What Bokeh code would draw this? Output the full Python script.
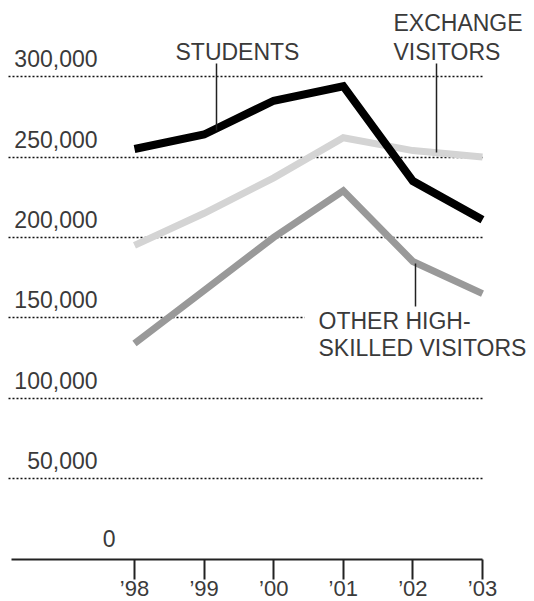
from bokeh.plotting import figure
from bokeh.models import FixedTicker, Range1d
from bokeh.core.properties import value
from bokeh.embed import file_html
from bokeh.resources import INLINE

# ---- data ----
years = [1998, 1999, 2000, 2001, 2002, 2003]
year_labels = ["\u201998", "\u201999", "\u201900", "\u201901", "\u201902", "\u201903"]
students = [255000, 264000, 285000, 294000, 235000, 211000]
exchange = [195000, 215000, 237000, 262000, 254000, 250000]
other = [134000, 167000, 200000, 229000, 185000, 165000]
grid_values = [50000, 100000, 150000, 200000, 250000, 300000]
grid_labels = ["50,000", "100,000", "150,000", "200,000", "250,000", "300,000"]
zero_value = [0]
zero_label = ["0"]
students_name = ["STUDENTS"]
exchange_name = ["EXCHANGE", "VISITORS"]
other_name = ["OTHER HIGH-", "SKILLED VISITORS"]

# ---- layout helpers (reference pixel -> data) ----
FONT = "Liberation Sans"
TXT = "#3a3a3a"
FS = "23px"
W, H = 534, 601
PX0, PXS = 134.0, 69.6          # pixel x of 1998, pixels per year
PY0, PYS = 558.5, 80.4 / 50000  # pixel y of 0, pixels per unit
PAD = 14


def dx(px):
    return 1998 + (px - PX0) / PXS


def dy(py):
    return (PY0 - py) / PYS


p = figure(width=W, height=H, output_backend="svg", toolbar_location=None,
           x_range=Range1d(dx(0), dx(W)), y_range=Range1d(dy(H), dy(0)),
           min_border=0, min_border_left=0, min_border_right=0,
           min_border_top=0, min_border_bottom=0)
p.outline_line_color = None
p.background_fill_color = "white"
p.border_fill_color = "white"

# y axis hidden, grid kept
p.yaxis.visible = False
p.xgrid.visible = False
p.ygrid.ticker = FixedTicker(ticks=grid_values)
p.ygrid.grid_line_color = "#111111"
p.ygrid.grid_line_width = 1.5
p.ygrid.grid_line_dash = "2 2"
p.ygrid.cross_bounds = (dx(8), 2003)

# x axis at y = 0
xa = p.xaxis[0]
xa.fixed_location = 0
xa.ticker = FixedTicker(ticks=years)
xa.major_label_overrides = {y: l for y, l in zip(years, year_labels)}
xa.bounds = (dx(11), 2003)
xa.axis_line_width = 2
xa.axis_line_color = "#222222"
xa.major_tick_line_width = 2
xa.major_tick_line_color = "#222222"
xa.major_tick_in = 0
xa.major_tick_out = 20
xa.minor_tick_line_color = None
xa.major_label_standoff = -3
xa.major_label_text_font = FONT
xa.major_label_text_font_size = "22px"
xa.major_label_text_color = TXT

# y labels above the grid lines
p.text(x=[dx(97)] * len(grid_values), y=grid_values, text=grid_labels,
       text_font=value(FONT), text_font_size=FS, text_color=TXT,
       text_align="right", text_baseline="middle", y_offset=-18)
p.text(x=[dx(115)], y=zero_value, text=zero_label,
       text_font=value(FONT), text_font_size=FS, text_color=TXT,
       text_align="right", text_baseline="middle", y_offset=-21)

# other label with white background cutting the grid line
p.text(x=[dx(318 - PAD)], y=[dy(320)], text=other_name[:1],
       text_font=value(FONT), text_font_size=FS, text_color=TXT,
       text_align="left", text_baseline="middle",
       background_fill_color="white", padding=PAD)
p.text(x=[dx(318)], y=[dy(347)], text=other_name[1:],
       text_font=value(FONT), text_font_size=FS, text_color=TXT,
       text_align="left", text_baseline="middle")

# series
p.line(years, exchange, line_color="#d4d4d4", line_width=7, line_join="miter")
p.line(years, other, line_color="#999999", line_width=7, line_join="miter")
p.line(years, students, line_color="#000000", line_width=8, line_join="miter")

# annotations
p.text(x=[dx(175)], y=[dy(51)], text=students_name,
       text_font=value(FONT), text_font_size=FS, text_color=TXT,
       text_align="left", text_baseline="middle")
p.text(x=[dx(393), dx(393)], y=[dy(22.5), dy(51)], text=exchange_name,
       text_font=value(FONT), text_font_size=FS, text_color=TXT,
       text_align="left", text_baseline="middle")
p.segment(x0=[dx(216), dx(436), dx(415)], y0=[dy(63), dy(63), dy(263)],
          x1=[dx(216), dx(436), dx(415)], y1=[dy(130), dy(152), dy(306)],
          line_color="#222222", line_width=1.5)

open("out.html", "w").write(file_html(p, INLINE))
